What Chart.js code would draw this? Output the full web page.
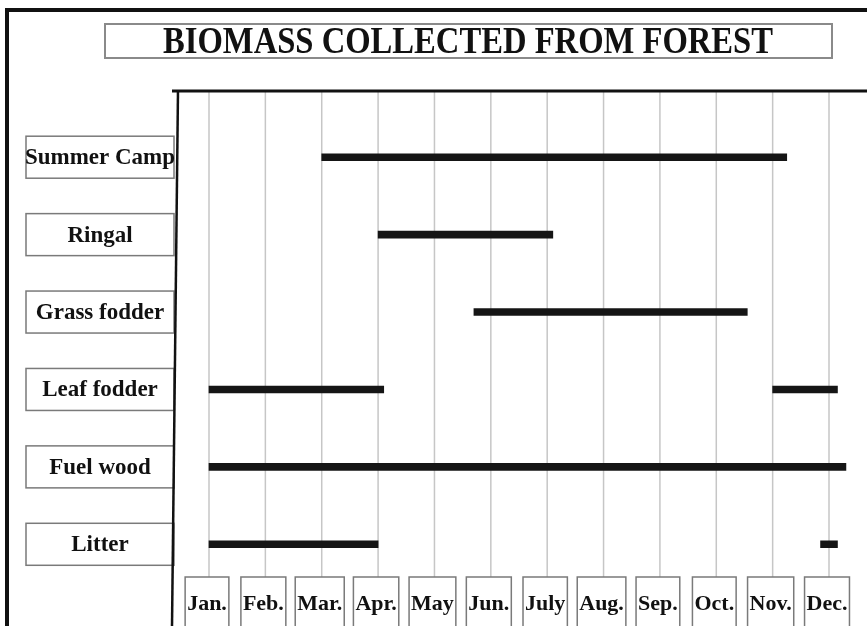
<!DOCTYPE html>
<html>
<head>
<meta charset="utf-8">
<title>Biomass collected from forest</title>
<script src="https://cdn.jsdelivr.net/npm/chart.js@4/dist/chart.umd.min.js"></script>
<style>
  html, body { margin: 0; padding: 0; background: #fff; }
  canvas { display: block; }
</style>
</head>
<body>
<canvas id="biomassChart" width="867" height="626"></canvas>
<script>
// chart values, month units (Jan = 1 ... Dec = 12)
const categories = ['Summer Camp', 'Ringal', 'Grass fodder', 'Leaf fodder', 'Fuel wood', 'Litter'];
const months = ['Jan.', 'Feb.', 'Mar.', 'Apr.', 'May', 'Jun.', 'July', 'Aug.', 'Sep.', 'Oct.', 'Nov.', 'Dec.'];
const firstPeriod = [[3, 11.25], [4, 7.1], [5.7, 10.55], [1, 4.1], [1, 12.3], [1, 4]];
const secondPeriod = [null, null, null, [11, 12.15], null, [11.85, 12.15]];
const chartTitle = 'BIOMASS COLLECTED FROM FOREST';

const SERIF = '"Liberation Serif", "Times New Roman", serif';

// draws the frame, title box, label boxes, month boxes and grid
const decorPlugin = {
    id: 'decor',
    beforeDatasetsDraw(chart) {
        const ctx = chart.ctx;
        const xs = chart.scales.x;
        const ys = chart.scales.y;

        // outer frame
        ctx.save();
        ctx.strokeStyle = '#111';
        ctx.lineWidth = 4;
        ctx.beginPath();
        ctx.moveTo(7, 626);
        ctx.lineTo(7, 10);
        ctx.lineTo(867, 10);
        ctx.stroke();

        // title box
        ctx.strokeStyle = '#8a8a8a';
        ctx.lineWidth = 2;
        ctx.strokeRect(105, 24, 727, 34);
        ctx.fillStyle = '#111';
        ctx.font = 'bold 37px ' + SERIF;
        ctx.textAlign = 'center';
        ctx.textBaseline = 'alphabetic';
        const tw = ctx.measureText(chartTitle).width;
        ctx.save();
        ctx.translate(468, 53);
        ctx.scale(610 / tw, 1);
        ctx.fillText(chartTitle, 0, 0);
        ctx.restore();

        // vertical month grid
        ctx.strokeStyle = '#c6c6c6';
        ctx.lineWidth = 1.5;
        months.forEach((m, i) => {
            const x = xs.getPixelForValue(i + 1);
            ctx.beginPath();
            ctx.moveTo(x, 92);
            ctx.lineTo(x, 577);
            ctx.stroke();
        });

        // month label boxes
        ctx.font = 'bold 22px ' + SERIF;
        months.forEach((m, i) => {
            const x = xs.getPixelForValue(i + 1) - 2;
            const w = ctx.measureText(m).width + 4;
            ctx.fillStyle = '#fff';
            ctx.fillRect(x - w / 2, 577, w, 55);
            ctx.strokeStyle = '#7a7a7a';
            ctx.lineWidth = 1.5;
            ctx.strokeRect(x - w / 2, 577, w, 55);
            ctx.fillStyle = '#111';
            ctx.fillText(m, x, 610);
        });

        // category label boxes
        categories.forEach((c, i) => {
            const y = ys.getPixelForValue(i);
            ctx.strokeStyle = '#7a7a7a';
            ctx.lineWidth = 1.5;
            ctx.strokeRect(26, y - 21, 148, 42);
            ctx.fillStyle = '#111';
            ctx.font = 'bold 23px ' + SERIF;
            ctx.textBaseline = 'middle';
            const lw = ctx.measureText(c).width;
            if (lw > 150) {
                ctx.save();
                ctx.translate(100, y);
                ctx.scale(150 / lw, 1);
                ctx.fillText(c, 0, 1);
                ctx.restore();
            } else {
                ctx.fillText(c, 100, y + 1);
            }
        });

        // axes: top line and slanted left line
        ctx.strokeStyle = '#111';
        ctx.lineWidth = 3;
        ctx.beginPath();
        ctx.moveTo(172, 91);
        ctx.lineTo(867, 91);
        ctx.stroke();
        ctx.lineWidth = 2.5;
        ctx.beginPath();
        ctx.moveTo(178, 90);
        ctx.lineTo(172, 626);
        ctx.stroke();
        ctx.restore();
    }
};

new Chart(document.getElementById('biomassChart'), {
    type: 'bar',
    data: {
        labels: categories,
        datasets: [
            {
                label: 'Period 1',
                data: firstPeriod,
                backgroundColor: '#151515',
                barThickness: 7
            },
            {
                label: 'Period 2',
                data: secondPeriod,
                backgroundColor: '#151515',
                barThickness: 7
            }
        ]
    },
    options: {
        responsive: false,
        animation: false,
        indexAxis: 'y',
        layout: {
            padding: { left: 176, right: 0, top: 118.5, bottom: 43 }
        },
        plugins: {
            legend: { display: false },
            tooltip: { enabled: false },
            title: { display: false }
        },
        scales: {
            x: {
                type: 'linear',
                min: 0.4145,
                max: 12.674,
                display: false
            },
            y: {
                type: 'category',
                display: false,
                stacked: true
            }
        }
    },
    plugins: [decorPlugin]
});
</script>
</body>
</html>
